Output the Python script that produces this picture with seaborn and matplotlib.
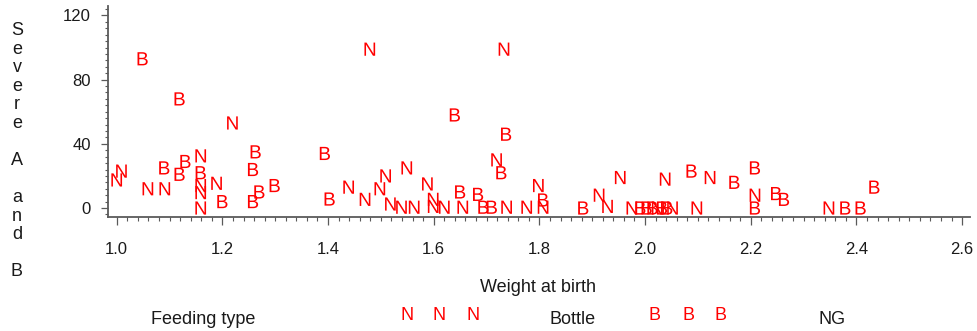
import matplotlib
matplotlib.use("Agg")
import matplotlib.pyplot as plt
import seaborn as sns
import pandas as pd
from matplotlib.ticker import FixedLocator, MultipleLocator

# ---- data ----
n_weight = [1.000, 1.009, 1.059, 1.091, 1.159, 1.159, 1.159, 1.159, 1.189, 1.219,
            1.439, 1.470, 1.479, 1.498, 1.509, 1.518, 1.539, 1.549, 1.563, 1.588,
            1.599, 1.599, 1.620, 1.655, 1.719, 1.733, 1.738, 1.776, 1.798, 1.807,
            1.913, 1.929, 1.953, 1.975, 2.023, 2.038, 2.052, 2.098, 2.123, 2.208,
            2.348]
n_severe = [17.5, 23, 12, 12, 32.5, 14, 9.6, 0, 15.4, 53,
            13, 5.4, 99, 12, 20, 2.5, 0.5, 25, 0.5, 15,
            5.4, 1, 0.5, 0.5, 30, 99, 0.5, 0.5, 14, 0.5,
            8, 1, 19, 0, 0, 18, 0, 0, 19, 8,
            0]
b_weight = [1.049, 1.090, 1.119, 1.119, 1.130, 1.159, 1.200, 1.258, 1.258, 1.263,
            1.270, 1.299, 1.394, 1.403, 1.640, 1.650, 1.684, 1.694, 1.710, 1.728,
            1.737, 1.807, 1.883, 1.991, 2.003, 2.014, 2.032, 2.042, 2.088, 2.169,
            2.208, 2.208, 2.248, 2.263, 2.379, 2.408, 2.434]
b_severe = [93, 25, 68, 21, 29, 22, 4, 24, 4, 35,
            10, 14, 34, 5.6, 58, 10, 8.5, 0.5, 0.5, 22,
            46, 5, 0, 0, 0, 0, 0, 0, 23, 16,
            25, 0, 9, 5.4, 0, 0, 13]
feed_codes = ["N", "B"]
legend_title = "Feeding type"
legend_labels = ["Bottle", "NG"]
x_ticks = [1.0, 1.2, 1.4, 1.6, 1.8, 2.0, 2.2, 2.4, 2.6]
x_tick_labels = ["1.0", "1.2", "1.4", "1.6", "1.8", "2.0", "2.2", "2.4", "2.6"]
y_ticks = [0, 40, 80, 120]
x_label = "Weight at birth"
y_label = "Severe A and B"

# ---- style ----
sns.set_style("white")
plt.rcParams["font.family"] = ["Liberation Sans", "DejaVu Sans"]
plt.rcParams["mathtext.fontset"] = "custom"
plt.rcParams["mathtext.rm"] = "Liberation Sans"
plt.rcParams["mathtext.it"] = "Liberation Sans"
plt.rcParams["mathtext.bf"] = "Liberation Sans:bold"

RED = "#ff0000"
AXC = "#5a5a5a"

df = pd.DataFrame({
    "weight": n_weight + b_weight,
    "severe": n_severe + b_severe,
    "feed": [feed_codes[0]] * len(n_weight) + [feed_codes[1]] * len(b_weight),
})

W, H = 977, 331
fig = plt.figure(figsize=(W / 100, H / 100), dpi=100)
ax = fig.add_axes([108 / W, (H - 217) / H, (970 - 108) / W, (217 - 6) / H])

markers = {c: r"$\mathregular{%s}$" % c for c in feed_codes}
sns.scatterplot(data=df, x="weight", y="severe", style="feed", markers=markers,
                color=RED, s=90, linewidth=0, edgecolor="none", legend=False,
                ax=ax, zorder=3)

ax.set_xlim(0.9835, 2.615)
ax.set_ylim(-5.6, 125.9)

ax.xaxis.set_major_locator(FixedLocator(x_ticks))
ax.set_xticklabels(x_tick_labels)
ax.xaxis.set_minor_locator(MultipleLocator(0.02))
ax.yaxis.set_major_locator(FixedLocator(y_ticks))
ax.yaxis.set_minor_locator(MultipleLocator(4))

ax.tick_params(axis="both", which="both", bottom=True, left=True, top=False, right=False)
ax.tick_params(axis="x", which="major", direction="out", length=5.8, width=0.9,
               color=AXC, pad=12.5, labelsize=12, labelcolor="#1a1a1a")
ax.tick_params(axis="x", which="minor", direction="out", length=2.9, width=0.8,
               color=AXC)
ax.tick_params(axis="y", which="major", direction="out", length=4.8, width=0.9,
               color=AXC, pad=7.6, labelsize=12, labelcolor="#1a1a1a")
ax.tick_params(axis="y", which="minor", direction="out", length=2.4, width=0.8,
               color=AXC)

for side in ("top", "right"):
    ax.spines[side].set_visible(False)
for side in ("left", "bottom"):
    ax.spines[side].set_color(AXC)
    ax.spines[side].set_linewidth(1.3)

ax.grid(False)

# axis titles
ax.set_xlabel(x_label, fontsize=13, color="#1a1a1a", va="baseline")
ax.xaxis.set_label_coords(0.4988, -0.3545)
stacked = "\n".join(ch if ch != " " else "\n" for ch in y_label).replace("\n\n\n", "\n\n")
ax.set_ylabel(stacked, fontsize=13, color="#1a1a1a", rotation=0, ha="center",
              va="top", linespacing=1.12)
ax.yaxis.set_label_coords((17 - 108) / 862, (217 - 22) / 211)

# legend row
base_black = (H - 324.3) / H
base_red = (H - 320.0) / H
fig.text(203.5 / W, base_black, legend_title, fontsize=13, color="#1a1a1a",
         ha="center", va="baseline")
for xpix in (406.7, 439.5, 473.0):
    fig.text(xpix / W, base_red, feed_codes[0], fontsize=13, color=RED,
             ha="center", va="baseline")
fig.text(573 / W, base_black, legend_labels[0], fontsize=13, color="#1a1a1a",
         ha="center", va="baseline")
for xpix in (655.0, 688.0, 720.7):
    fig.text(xpix / W, base_red, feed_codes[1], fontsize=13, color=RED,
             ha="center", va="baseline")
fig.text(832 / W, base_black, legend_labels[1], fontsize=13, color="#1a1a1a",
         ha="center", va="baseline")

fig.savefig("out.png", dpi=100)
